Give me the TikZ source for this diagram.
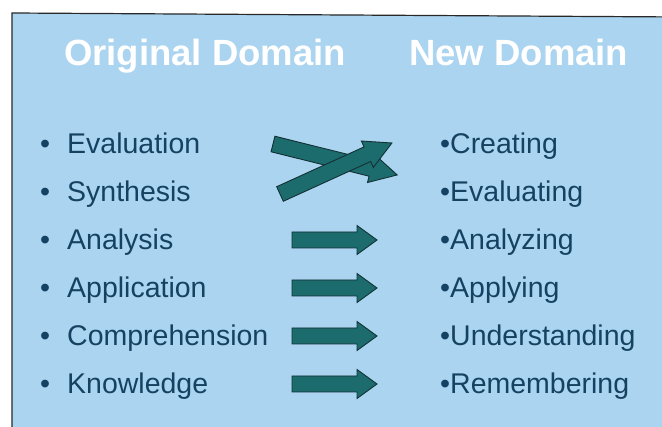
\documentclass[tikz,border=0pt]{standalone}
\usepackage{fontspec}
\setmainfont{Liberation Sans}
\definecolor{bgblue}{RGB}{170,212,240}
\definecolor{txtblue}{RGB}{22,66,98}
\definecolor{teal}{RGB}{28,108,110}
\definecolor{tealedge}{RGB}{20,48,52}
\definecolor{boxedge}{RGB}{40,40,40}
\begin{document}
\begin{tikzpicture}[x=1pt,y=-1pt,
  harrow len/.store in=\harrowlen, harrow len=20,
  arrowfill/.style={fill=teal, draw=tealedge, line width=0.9pt, line join=miter},
  fatarrow/.pic={
    \filldraw[arrowfill] (0,-8) -- (#1-\harrowlen,-8) -- (#1-\harrowlen,-14.5) -- (#1,0)
      -- (#1-\harrowlen,14.5) -- (#1-\harrowlen,8) -- (0,8) -- cycle;
  },
  head/.style={font=\fontsize{36.5}{40}\selectfont\bfseries, text=white, anchor=base west, inner sep=0pt},
  item/.style={font=\fontsize{28.5}{32}\selectfont, text=txtblue, anchor=base west, inner sep=0pt}
]
\useasboundingbox (0,0) rectangle (662,427);
\fill[white] (0,0) rectangle (662,427);
\fill[bgblue] (12,13) -- (680,17) -- (680,440) -- (12,440) -- cycle;
\draw[boxedge, line width=1.2pt] (12,440) -- (12,13) -- (680,17);

\node[head] (orig) at (64,66) {Original Domain};
\node[head] (new) at (409,66) {New Domain};

\node[item] (l1) at (40,153.5) {\makebox[27pt][l]{•}Evaluation};
\node[item] (l2) at (40,201.5) {\makebox[27pt][l]{•}Synthesis};
\node[item] (l3) at (40,249.5) {\makebox[27pt][l]{•}Analysis};
\node[item] (l4) at (40,297.5) {\makebox[27pt][l]{•}Application};
\node[item] (l5) at (40,345.5) {\makebox[27pt][l]{•}Comprehension};
\node[item] (l6) at (40,393.5) {\makebox[27pt][l]{•}Knowledge};

\node[item] (r1) at (440,153.5) {•Creating};
\node[item] (r2) at (440,201.5) {•Evaluating};
\node[item] (r3) at (440,249.5) {•Analyzing};
\node[item] (r4) at (440,297.5) {•Applying};
\node[item] (r5) at (440,345.5) {•Understanding};
\node[item] (r6) at (440,393.5) {•Remembering};

% crossed arrows
\pic[rotate=-14, harrow len=27] at (273,144) {fatarrow=128};
\pic[rotate=24.5, harrow len=27] at (280,194) {fatarrow=123};

% straight arrows
\pic at (292,240) {fatarrow=85};
\pic at (292,288) {fatarrow=85};
\pic at (292,336) {fatarrow=85};
\pic at (292,384) {fatarrow=85};
\end{tikzpicture}
\end{document}
